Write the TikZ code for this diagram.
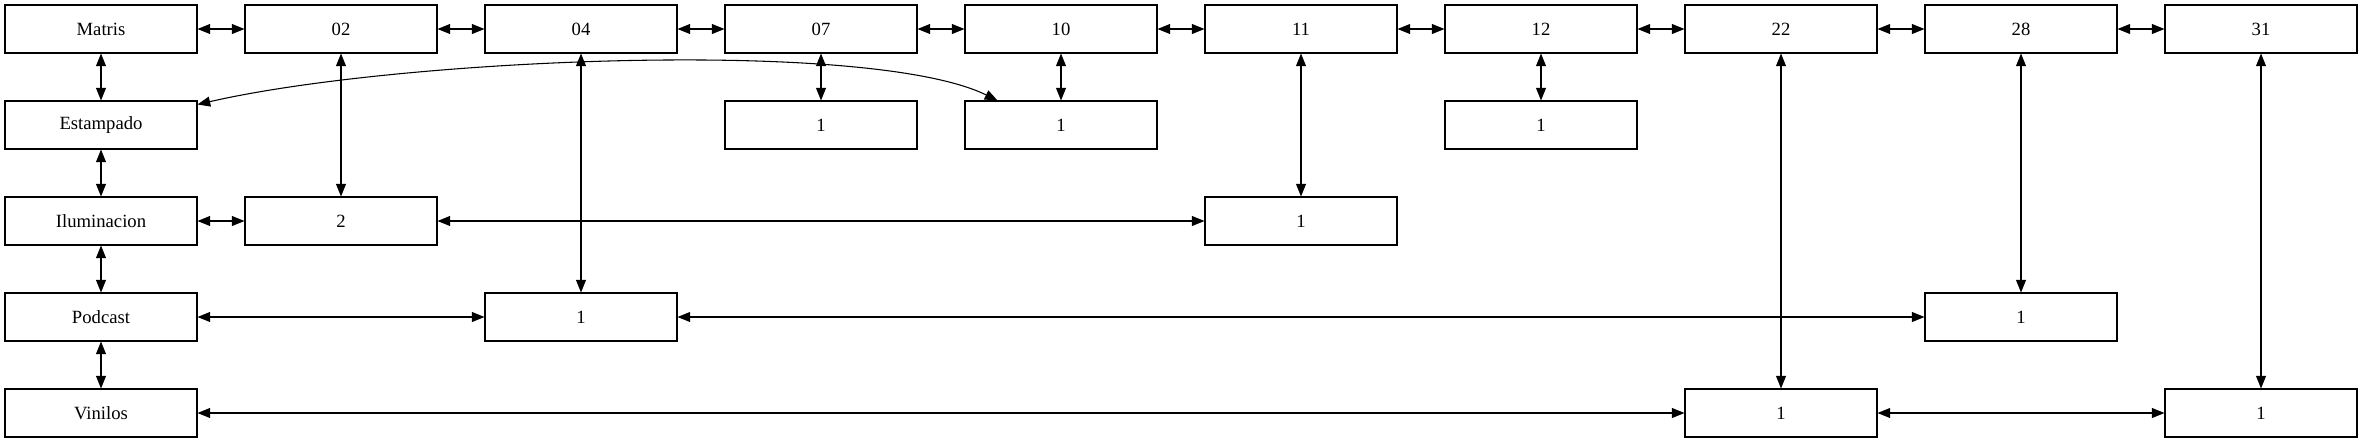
\documentclass[tikz,border=0pt]{standalone}
\usepackage{fontspec}
\setmainfont{Liberation Serif}
\usetikzlibrary{arrows.meta,calc}
\begin{document}
\begin{tikzpicture}[x=0.75pt,y=-0.75pt,
  box/.style={draw,line width=0.8pt,minimum width=144pt,minimum height=36pt,inner sep=0pt,font=\fontsize{14}{16}\selectfont},
  link/.style={line width=0.8pt,{Triangle[length=9.5pt,width=7.5pt]}-{Triangle[length=9.5pt,width=7.5pt]}}]
\useasboundingbox (0,0) rectangle (2363,443);
% row 0
\node[box] (m)   at (101,29)  {Matris};
\node[box] (d02) at (341,29)  {02};
\node[box] (d04) at (581,29)  {04};
\node[box] (d07) at (821,29)  {07};
\node[box] (d10) at (1061,29) {10};
\node[box] (d11) at (1301,29) {11};
\node[box] (d12) at (1541,29) {12};
\node[box] (d22) at (1781,29) {22};
\node[box] (d28) at (2021,29) {28};
\node[box] (d31) at (2261,29) {31};
% row 1
\node[box] (est) at (101,125)  {Estampado};
\node[box] (e07) at (821,125)  {1};
\node[box] (e10) at (1061,125) {1};
\node[box] (e12) at (1541,125) {1};
% row 2
\node[box] (ilu) at (101,221)  {Iluminacion};
\node[box] (i02) at (341,221)  {2};
\node[box] (i11) at (1301,221) {1};
% row 3
\node[box] (pod) at (101,317)  {Podcast};
\node[box] (p04) at (581,317)  {1};
\node[box] (p28) at (2021,317) {1};
% row 4
\node[box] (vin) at (101,413)  {Vinilos};
\node[box] (v22) at (1781,413) {1};
\node[box] (v31) at (2261,413) {1};
% row 0 chain
\draw[link] (m.east) -- (d02.west);
\draw[link] (d02.east) -- (d04.west);
\draw[link] (d04.east) -- (d07.west);
\draw[link] (d07.east) -- (d10.west);
\draw[link] (d10.east) -- (d11.west);
\draw[link] (d11.east) -- (d12.west);
\draw[link] (d12.east) -- (d22.west);
\draw[link] (d22.east) -- (d28.west);
\draw[link] (d28.east) -- (d31.west);
% column 0 chain
\draw[link] (m.south) -- (est.north);
\draw[link] (est.south) -- (ilu.north);
\draw[link] (ilu.south) -- (pod.north);
\draw[link] (pod.south) -- (vin.north);
% verticals
\draw[link] (d02.south) -- (i02.north);
\draw[link] (d04.south) -- (p04.north);
\draw[link] (d07.south) -- (e07.north);
\draw[link] (d10.south) -- (e10.north);
\draw[link] (d11.south) -- (i11.north);
\draw[link] (d12.south) -- (e12.north);
\draw[link] (d22.south) -- (v22.north);
\draw[link] (d28.south) -- (p28.north);
\draw[link] (d31.south) -- (v31.north);
% horizontals
\draw[link] (ilu.east) -- (i02.west);
\draw[link] (i02.east) -- (i11.west);
\draw[link] (pod.east) -- (p04.west);
\draw[link] (p04.east) -- (p28.west);
\draw[link] (vin.east) -- (v22.west);
\draw[link] (v22.east) -- (v31.west);
% curve
\draw[link] ($(est.north east)+(0,4)$) .. controls (400,58) and (870,38) .. ($(e10.north west)+(33,0)$);
\end{tikzpicture}
\end{document}
